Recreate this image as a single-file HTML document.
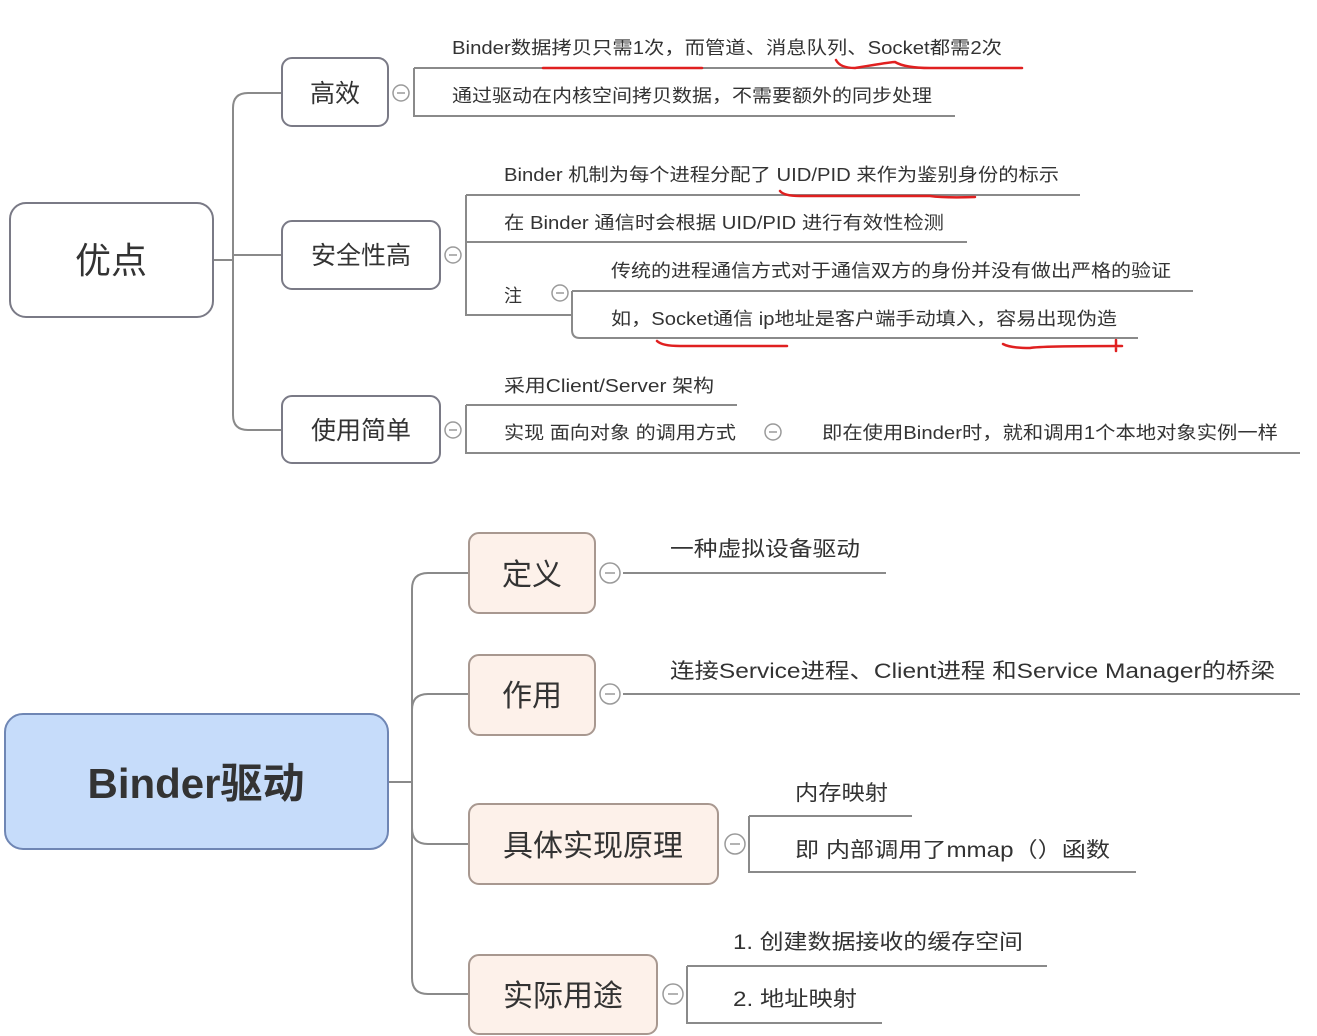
<!DOCTYPE html>
<html><head><meta charset="utf-8"><style>
html,body{margin:0;padding:0;background:#fff;}
svg{display:block;}
text{font-family:"Liberation Sans","Noto Sans CJK SC",sans-serif;fill:#333;}
</style></head><body>
<svg width="1317" height="1036" viewBox="0 0 1317 1036" xmlns="http://www.w3.org/2000/svg">
<g fill="none" stroke="#8a8a8a" stroke-width="2">
<!-- top trunk -->
<path d="M213 260 H233"/>
<path d="M282 93 H248 Q233 93 233 108 V415 Q233 430 248 430 H282"/>
<path d="M233 255 Q240 255 250 255 H282"/>
<!-- 高效 bracket -->
<path d="M414 68 H1000 M414 68 V116 H955"/>
<!-- 安全性高 -->
<path d="M466 195 H1080 M466 195 V315 H572 M466 242 H967"/>
<path d="M572 291 H1193 M572 291 V330 Q572 338 580 338 H1138"/>
<!-- 使用简单 -->
<path d="M466 405 H737 M466 405 V453 H1300"/>
<!-- bottom trunk -->
<path d="M388 782 H412"/>
<path d="M469 573 H428 Q412 573 412 589 V978 Q412 994 428 994 H469"/>
<path d="M412 710 Q412 694 428 694 H469"/>
<path d="M412 828 Q412 844 428 844 H469"/>
<path d="M623 573 H886"/>
<path d="M623 694 H1300"/>
<path d="M749 816 H912 M749 816 V872 H1136"/>
<path d="M687 966 H1047 M687 966 V1023 H882"/>
</g>
<!-- circles -->
<g fill="#fff" stroke="#9a9a9a" stroke-width="1.5">
<circle cx="401" cy="93" r="8"/><circle cx="453" cy="255" r="8"/><circle cx="560" cy="293" r="8"/>
<circle cx="453" cy="430" r="8"/><circle cx="773" cy="432" r="8"/>
<circle cx="610" cy="573" r="10"/><circle cx="610" cy="694" r="10"/><circle cx="735" cy="844" r="10"/><circle cx="673" cy="994" r="10"/>
</g>
<g stroke="#9a9a9a" stroke-width="1.5">
<path d="M397 93h8M449 255h8M556 293h8M449 430h8M769 432h8M605 573h10M605 694h10M730 844h10M668 994h10"/>
</g>
<!-- boxes -->
<g fill="#fff" stroke="#7a7a86" stroke-width="2">
<rect x="10" y="203" width="203" height="114" rx="16"/>
<rect x="282" y="58" width="106" height="68" rx="10"/>
<rect x="282" y="221" width="158" height="68" rx="10"/>
<rect x="282" y="396" width="158" height="67" rx="10"/>
</g>
<rect x="5" y="714" width="383" height="135" rx="18" fill="#c6dcfa" stroke="#6f86b4" stroke-width="2"/>
<g fill="#fdf1ea" stroke="#a89890" stroke-width="2">
<rect x="469" y="533" width="126" height="80" rx="10"/>
<rect x="469" y="655" width="126" height="80" rx="10"/>
<rect x="469" y="804" width="249" height="80" rx="10"/>
<rect x="469" y="955" width="188" height="79" rx="10"/>
</g>
<!-- box text -->
<text x="111" y="273" font-size="36" text-anchor="middle">优点</text>
<text x="335" y="102" font-size="25" text-anchor="middle">高效</text>
<text x="361" y="264" font-size="25" text-anchor="middle">安全性高</text>
<text x="361" y="439" font-size="25" text-anchor="middle">使用简单</text>
<text x="196" y="798" font-size="42" font-weight="bold" text-anchor="middle" fill="#3a3a3a">Binder驱动</text>
<text x="532" y="585" font-size="30" text-anchor="middle">定义</text>
<text x="532" y="706" font-size="30" text-anchor="middle">作用</text>
<text x="593" y="856" font-size="30" text-anchor="middle">具体实现原理</text>
<text x="563" y="1006" font-size="30" text-anchor="middle">实际用途</text>
<!-- leaf text -->
<g font-size="18">
<text x="452" y="54" textLength="550" lengthAdjust="spacingAndGlyphs">Binder数据拷贝只需1次，而管道、消息队列、Socket都需2次</text>
<text x="452" y="102" textLength="480" lengthAdjust="spacingAndGlyphs">通过驱动在内核空间拷贝数据，不需要额外的同步处理</text>
<text x="504" y="181" textLength="555" lengthAdjust="spacingAndGlyphs">Binder 机制为每个进程分配了 UID/PID 来作为鉴别身份的标示</text>
<text x="504" y="229" textLength="440" lengthAdjust="spacingAndGlyphs">在 Binder 通信时会根据 UID/PID 进行有效性检测</text>
<text x="504" y="302">注</text>
<text x="611" y="277" textLength="560" lengthAdjust="spacingAndGlyphs">传统的进程通信方式对于通信双方的身份并没有做出严格的验证</text>
<text x="611" y="325" textLength="506" lengthAdjust="spacingAndGlyphs">如，Socket通信 ip地址是客户端手动填入，容易出现伪造</text>
<text x="504" y="392" textLength="210" lengthAdjust="spacingAndGlyphs">采用Client/Server 架构</text>
<text x="504" y="439" textLength="232" lengthAdjust="spacingAndGlyphs">实现 面向对象 的调用方式</text>
<text x="822" y="439" textLength="456" lengthAdjust="spacingAndGlyphs">即在使用Binder时，就和调用1个本地对象实例一样</text>
</g>
<g font-size="21">
<text x="670" y="556" textLength="190" lengthAdjust="spacingAndGlyphs">一种虚拟设备驱动</text>
<text x="670" y="678" textLength="605" lengthAdjust="spacingAndGlyphs">连接Service进程、Client进程 和Service Manager的桥梁</text>
<text x="795" y="800" textLength="93" lengthAdjust="spacingAndGlyphs">内存映射</text>
<text x="795" y="857" textLength="315" lengthAdjust="spacingAndGlyphs">即 内部调用了mmap（）函数</text>
<text x="733" y="949" textLength="290" lengthAdjust="spacingAndGlyphs">1. 创建数据接收的缓存空间</text>
<text x="733" y="1006" textLength="124" lengthAdjust="spacingAndGlyphs">2. 地址映射</text>
</g>
<!-- red annotations -->
<g fill="none" stroke="#e02020" stroke-width="2.5" stroke-linecap="round">
<path d="M543 68 H702"/>
<path d="M836 60 Q840 68 855 68 Q890 62 895 62 Q905 68 930 68 H1022"/>
<path d="M780 191 Q784 196 800 196 H930 Q945 198 975 197"/>
<path d="M657 341 Q662 346 680 346 H787"/>
<path d="M1003 344 Q1010 348 1030 348 Q1040 346 1122 346 M1116 340 V351"/>
</g>
</svg>
</body></html>
